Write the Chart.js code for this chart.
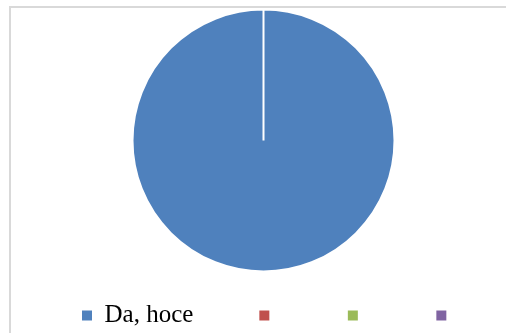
<!DOCTYPE html>
<html>
<head>
<meta charset="utf-8">
<script src="https://cdn.jsdelivr.net/npm/chart.js@4/dist/chart.umd.min.js"></script>
<style>
  html, body { margin: 0; padding: 0; background: #fff; overflow: hidden; }
  #okvir {
    position: absolute;
    left: 9px;
    top: 6px;
    width: 600px;
    height: 400px;
    border: 2px solid #d9d9d9;
  }
  #platno {
    position: absolute;
    left: 16px;
    top: 8px;
    width: 520px;
    height: 330px;
  }
</style>
</head>
<body>
<div id="okvir"></div>
<div id="platno"><canvas id="grafik"></canvas></div>
<script>
// odgovori i udjeli
const odgovori = ["Da, hoce", "", "", ""];
const udjeli = [100, 0, 0, 0];
const boje = ["#4F81BD", "#C0504D", "#9BBB59", "#8064A2"];

const osnovneOznake = Chart.overrides.pie.plugins.legend.labels.generateLabels;

new Chart(document.getElementById("grafik"), {
    type: "pie",
    data: {
        labels: odgovori,
        datasets: [{
            data: udjeli,
            backgroundColor: boje,
            borderColor: "#ffffff",
            borderWidth: 2,
            clip: false
        }]
    },
    options: {
        responsive: true,
        maintainAspectRatio: false,
        animation: false,
        radius: 131,
        layout: { padding: { top: 36 } },
        plugins: {
            tooltip: { enabled: false },
            // prazan naslov desno, samo da pita ne bude na sredini legende
            title: {
                display: true,
                position: "right",
                text: "",
                padding: 0,
                font: { size: 25, lineHeight: 1 }
            },
            legend: {
                position: "bottom",
                align: "start",
                labels: {
                    boxWidth: 10,
                    boxHeight: 10,
                    padding: 66,
                    color: "#000000",
                    font: { family: "'Liberation Serif', 'Times New Roman', serif", size: 25 },
                    generateLabels: chart => osnovneOznake(chart).map(o => {
                        o.lineWidth = 0;
                        o.hidden = false;
                        return o;
                    })
                }
            }
        }
    }
});
</script>
</body>
</html>
